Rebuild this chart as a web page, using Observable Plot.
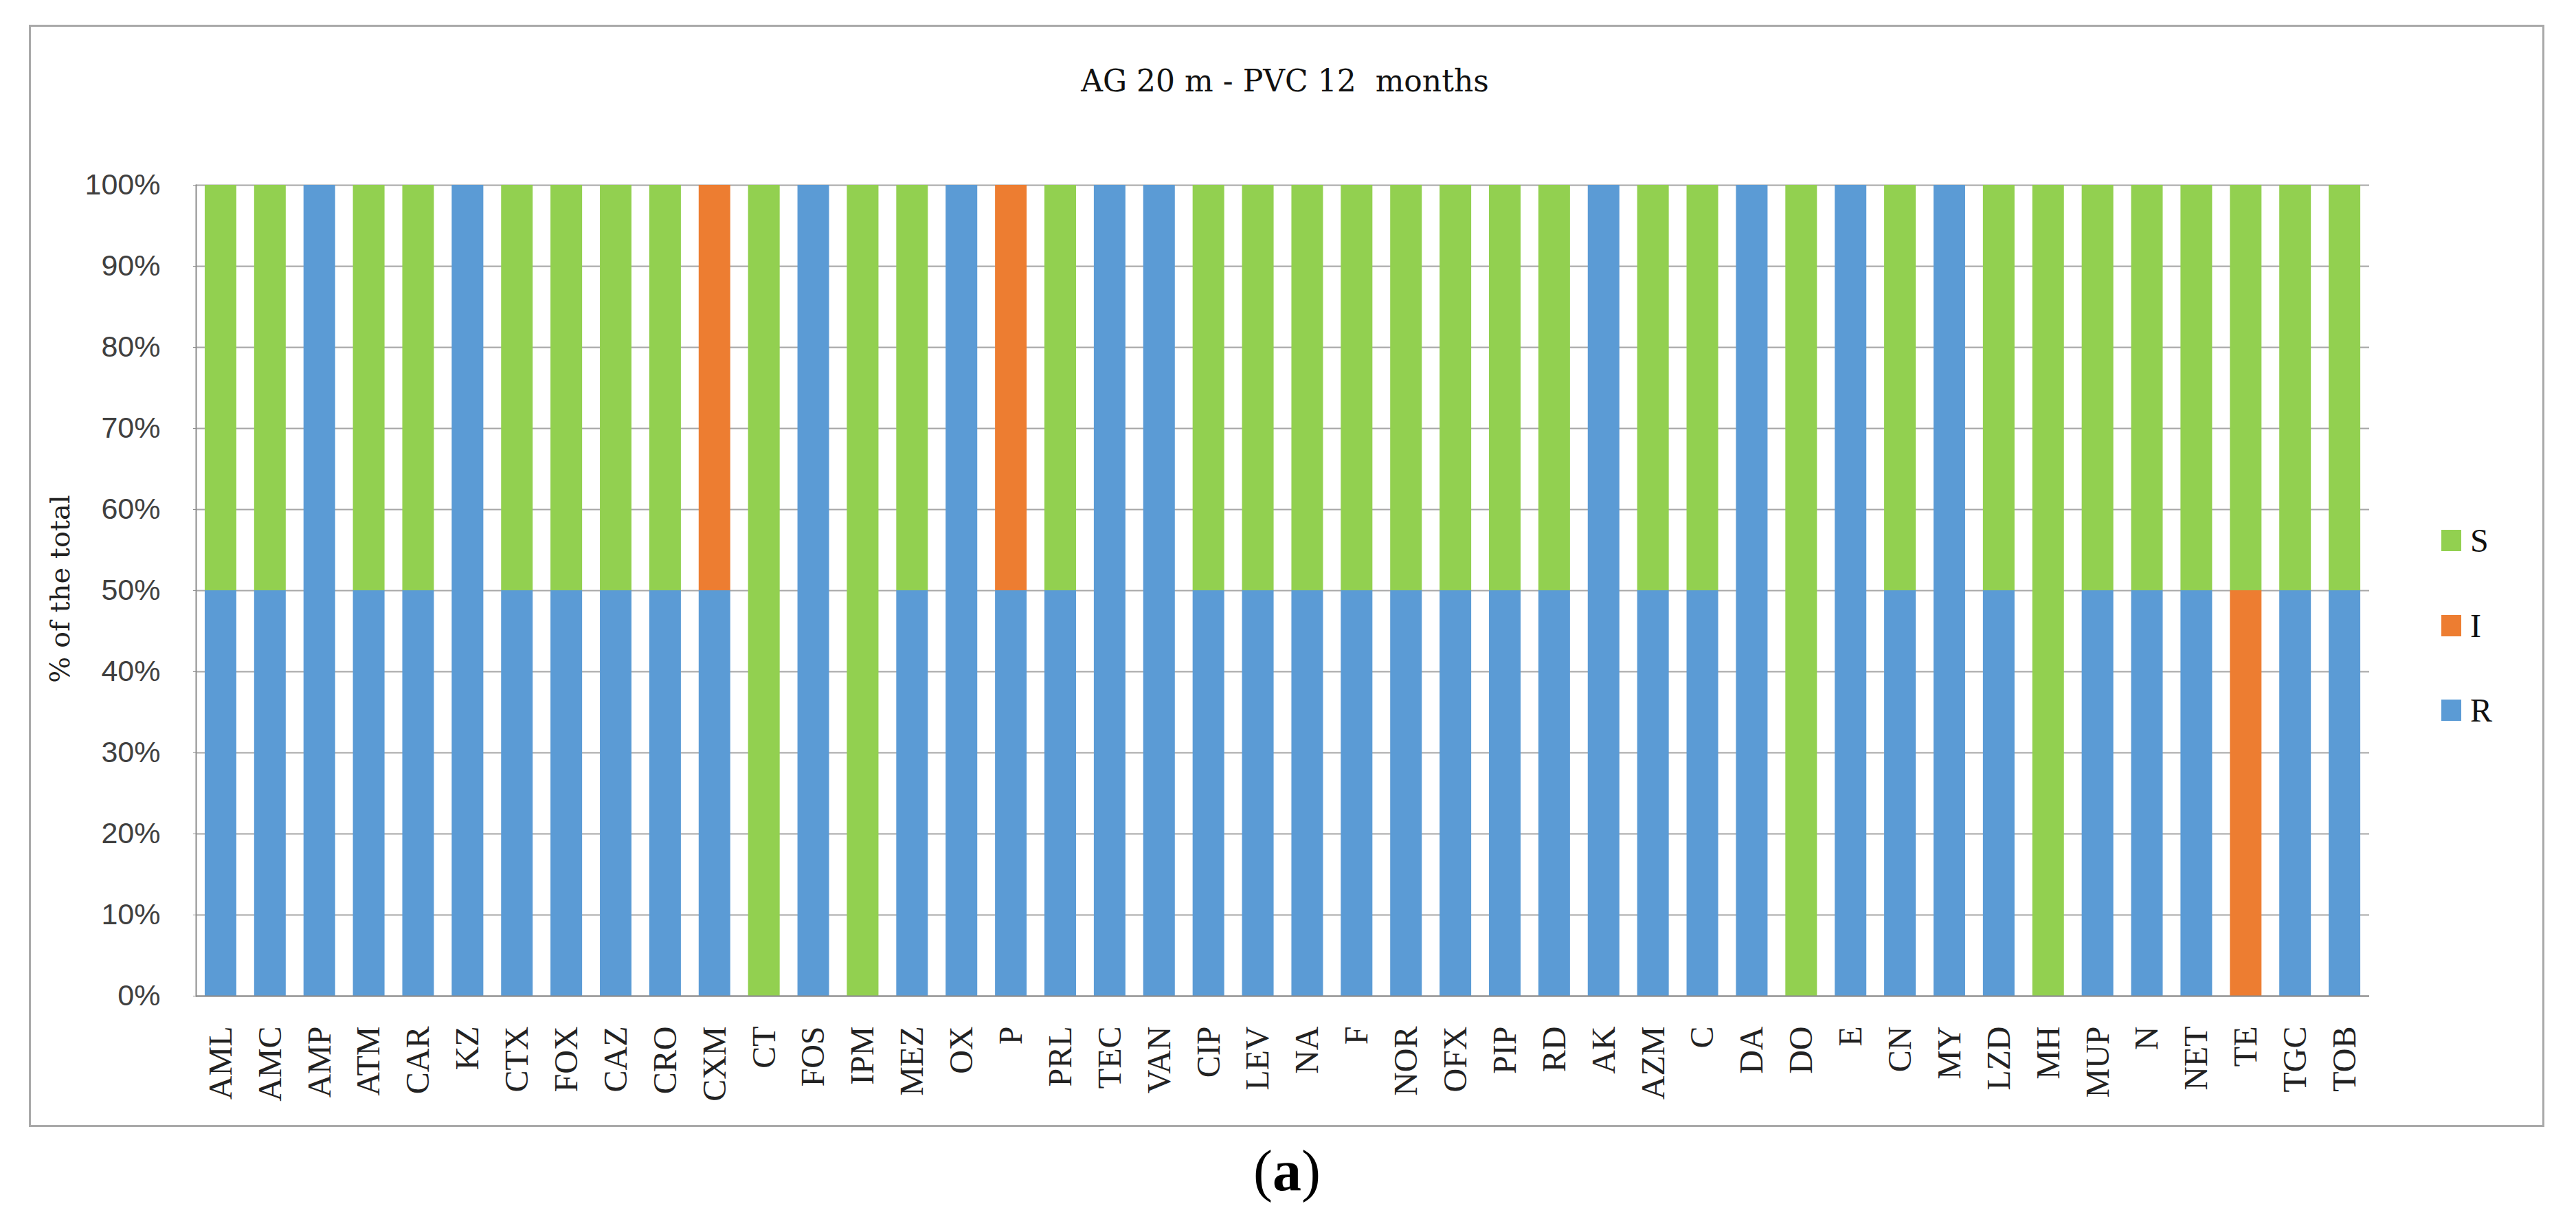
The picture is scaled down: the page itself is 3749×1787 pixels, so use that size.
<!DOCTYPE html>
<html>
<head>
<meta charset="utf-8">
<script src="https://cdn.jsdelivr.net/npm/d3@7"></script>
<script src="https://cdn.jsdelivr.net/npm/@observablehq/plot@0.6"></script>
<style>
  html, body { margin: 0; padding: 0; background: #fff; }
  body { width: 3749px; height: 1787px; position: relative; overflow: hidden; }
  #frame { position: absolute; left: 42px; top: 36px; width: 3661px; height: 1604px;
           border: 3px solid #a9a9a9; box-sizing: border-box; z-index: 3; pointer-events: none; }
  #chart { position: absolute; left: 0; top: 0; z-index: 1; }
  #title { position: absolute; left: 0; width: 3740px; top: 96px; text-align: center;
           font-family: "DejaVu Serif", serif; font-size: 44px; line-height: 44px; color: #111; z-index: 2; white-space: pre; }
  #ylabel { position: absolute; left: 87px; top: 857px; transform: translate(-50%, -50%) rotate(-90deg);
            font-family: "DejaVu Serif", serif; font-size: 40px; color: #222; white-space: nowrap; z-index: 2; }
  #legend { position: absolute; left: 3553px; top: 0; z-index: 2; }
  .item { position: absolute; left: 0; display: flex; align-items: center; height: 50px;
          font-family: "Liberation Serif", serif; font-size: 48px; color: #111; white-space: nowrap; }
  .sw { display: inline-block; width: 29px; height: 31px; margin-right: 13px; }
  #caption { position: absolute; left: 0; width: 3746px; top: 1662px; text-align: center;
             font-family: "Liberation Serif", serif; font-size: 84px; line-height: 84px; color: #000; }
  #caption b { font-weight: bold; }
</style>
</head>
<body>
<div id="frame"></div>
<div id="chart"></div>
<div id="title"></div>
<div id="ylabel"></div>
<div id="legend"></div>
<div id="caption">(<b>a</b>)</div>
<script>
const titleText = "AG 20 m - PVC 12  months";
const yLabelText = "% of the total";
const categories = ["AML","AMC","AMP","ATM","CAR","KZ","CTX","FOX","CAZ","CRO","CXM","CT","FOS","IPM","MEZ","OX","P","PRL","TEC","VAN","CIP","LEV","NA","F","NOR","OFX","PIP","RD","AK","AZM","C","DA","DO","E","CN","MY","LZD","MH","MUP","N","NET","TE","TGC","TOB"];
const R = [50,50,100,50,50,100,50,50,50,50,50,0,100,0,50,100,50,50,100,100,50,50,50,50,50,50,50,50,100,50,50,100,0,100,50,100,50,0,50,50,50,0,50,50];
const I = [0,0,0,0,0,0,0,0,0,0,50,0,0,0,0,0,50,0,0,0,0,0,0,0,0,0,0,0,0,0,0,0,0,0,0,0,0,0,0,0,0,50,0,0];
const S = [50,50,0,50,50,0,50,50,50,50,0,100,0,100,50,0,0,50,0,0,50,50,50,50,50,50,50,50,0,50,50,0,100,0,50,0,50,100,50,50,50,50,50,50];
const seriesNames = ["R","I","S"];
const seriesColors = ["#5B9BD5","#ED7D31","#92D050"];
const legendOrder = ["S","I","R"];
const yTicks = [0,10,20,30,40,50,60,70,80,90,100];

const seriesValues = {R, I, S};
const data = categories.flatMap((c, i) =>
  seriesNames.map(s => ({cat: c, series: s, value: seriesValues[s][i]})));

document.getElementById("title").textContent = titleText;
document.getElementById("ylabel").textContent = yLabelText;

const chart = Plot.plot({
  width: 3749,
  height: 1787,
  marginLeft: 285,
  marginRight: 301,
  marginTop: 269,
  marginBottom: 338,
  style: {background: "transparent", overflow: "visible"},
  x: {domain: categories, paddingInner: 0.36, paddingOuter: 0.18, label: null},
  y: {domain: [0, 100], label: null},
  color: {domain: seriesNames, range: seriesColors},
  marks: [
    Plot.gridY(yTicks, {stroke: "#a6a6a6", strokeOpacity: 1, strokeWidth: 2}),
    Plot.barY(data, {x: "cat", y: "value", fill: "series", order: seriesNames}),
    Plot.ruleY([0], {stroke: "#8c8c8c", strokeWidth: 2}),
    Plot.frame({anchor: "left", stroke: "#8c8c8c", strokeWidth: 2}),
    Plot.axisY(yTicks, {tickFormat: d => d + "%", tickSize: 4, tickPadding: 48,
      fontSize: 43, fontFamily: "Liberation Sans", fill: "#404040", stroke: "#8c8c8c", label: null}),
    Plot.axisX({tickRotate: -90, tickSize: 0, tickPadding: 44, fontSize: 48,
      fontFamily: "Liberation Serif", fill: "#222", label: null})
  ]
});
document.getElementById("chart").appendChild(chart);

const legend = document.getElementById("legend");
const legendCenters = {S: 786, I: 910, R: 1033};
legendOrder.forEach(name => {
  const item = document.createElement("div");
  item.className = "item";
  item.style.top = (legendCenters[name] - 25) + "px";
  const sw = document.createElement("span");
  sw.className = "sw";
  sw.style.background = seriesColors[seriesNames.indexOf(name)];
  item.appendChild(sw);
  item.appendChild(document.createTextNode(name));
  legend.appendChild(item);
});
</script>
</body>
</html>
